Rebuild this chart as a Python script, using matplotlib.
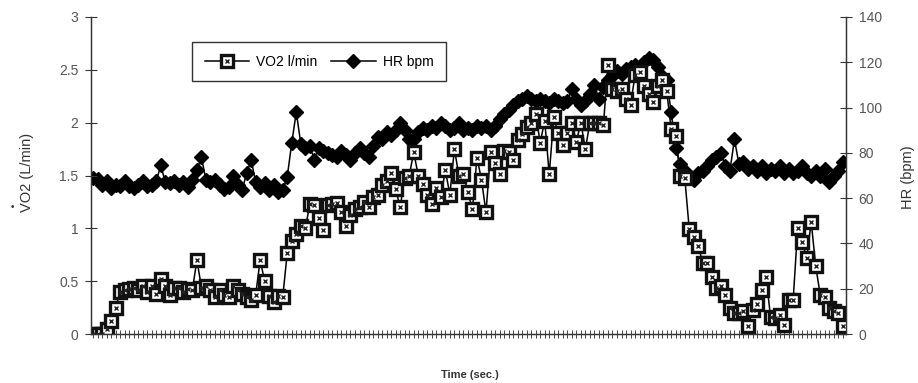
import matplotlib.pyplot as plt
import numpy as np

plt.rcParams['font.family'] = ['Liberation Sans', 'DejaVu Sans']

# VO2 (L/min), one value per sample
vo2 = [0, 0, 0, 0.05, 0.12, 0.25, 0.4, 0.42, 0.43, 0.44,
       0.42, 0.45, 0.4, 0.45, 0.38, 0.52, 0.45, 0.37, 0.44, 0.44,
       0.4, 0.43, 0.42, 0.7, 0.44, 0.45, 0.42, 0.35, 0.42, 0.37,
       0.35, 0.45, 0.42, 0.38, 0.35, 0.32, 0.37, 0.7, 0.5, 0.36,
       0.3, 0.36, 0.35, 0.77, 0.88, 0.95, 1.02, 1.0, 1.23, 1.22,
       1.1, 0.98, 1.22, 1.23, 1.24, 1.15, 1.02, 1.13, 1.18, 1.2,
       1.25, 1.2, 1.3, 1.32, 1.41, 1.45, 1.52, 1.37, 1.2, 1.48,
       1.5, 1.72, 1.5, 1.42, 1.32, 1.23, 1.38, 1.3, 1.55, 1.32,
       1.75, 1.5, 1.51, 1.34, 1.18, 1.67, 1.46, 1.15, 1.72, 1.62,
       1.51, 1.73, 1.72, 1.65, 1.84, 1.89, 1.96, 2.0, 2.08, 1.81,
       2.02, 1.51, 2.05, 1.9, 1.79, 1.9, 2.0, 1.82, 2.0, 1.75,
       2.0, 2.0, 2.0, 1.98, 2.55, 2.32, 2.3, 2.32, 2.22, 2.17,
       2.45, 2.48, 2.35, 2.27, 2.2, 2.35, 2.4, 2.3, 1.94, 1.87,
       1.5, 1.48, 0.99, 0.92, 0.83, 0.67, 0.67, 0.54, 0.44, 0.45,
       0.37, 0.25, 0.2, 0.2, 0.22, 0.08, 0.23, 0.28, 0.42, 0.54,
       0.16, 0.15, 0.18, 0.085, 0.32, 0.32, 1.0, 0.87, 0.72, 1.06,
       0.64, 0.37, 0.35, 0.25, 0.22, 0.2, 0.08]

# heart rate (bpm)
hr = [69, 68.5, 66, 67.5, 64.5, 66, 65.5, 67.5, 65.5, 64.5,
      66, 67.5, 65.5, 66, 67.5, 74.5, 67, 66.5, 67.5, 66,
      67, 65, 68, 72.5, 78, 68, 67, 68, 66, 64,
      65, 70, 66, 63.5, 71, 77, 67, 65, 66.5, 63.5,
      66, 62.5, 63.5, 69.5, 84.5, 98, 84, 82, 83, 77,
      82, 81, 80, 79, 78, 81, 79, 77, 80, 82,
      80, 78, 83, 87, 86, 89, 88, 90, 93, 90,
      86, 86, 89, 91, 90, 92, 91, 93, 92, 90,
      91, 93, 90, 91, 90, 92, 91, 92, 90, 92,
      95, 97, 99, 101, 103, 104, 105, 104, 103, 104,
      103, 102, 104, 103, 102, 103, 108, 104, 101, 103,
      106, 110, 104, 109, 112, 114, 116, 115, 117, 118,
      119, 118, 120, 122, 121, 118, 114, 112, 98, 82,
      75, 72, 70, 68, 71, 72, 74, 77, 78, 80,
      74, 72, 86, 75, 76, 73, 74, 72, 74, 71,
      73, 72, 74, 71, 73, 71, 72, 74, 71, 70,
      72, 70, 73, 67, 70, 72, 76]

vo2_ticks = [0, 0.5, 1, 1.5, 2, 2.5, 3]
vo2_labels = ['0', '0.5', '1', '1.5', '2', '2.5', '3']
hr_ticks = [0, 20, 40, 60, 80, 100, 120, 140]

t = np.arange(len(vo2))
W, H = 918, 383
grey = '#555555'
axcol = '#333333'

fig = plt.figure(figsize=(W / 100, H / 100), dpi=100)
ax = fig.add_axes([91 / W, 49 / H, 755 / W, 317 / H])
ax2 = ax.twinx()

hr_line, = ax2.plot(t, hr, color='black', lw=1.1, marker='D', ms=7.5, mfc='black', mec='black')

l1, = ax.plot(t, vo2, color='black', lw=1.1, marker='s', ms=9, mfc='white', mec='#111111', mew=2.4)
l1b, = ax.plot(t, vo2, ls='none', marker='x', ms=3.2, mec='#222222', mew=1)
ax.set_zorder(ax2.get_zorder() + 1)
ax.patch.set_visible(False)

ax.set_xlim(-0.45, len(vo2) - 1 + 0.7)
ax.set_ylim(0, 3)
ax2.set_ylim(0, 140)

ax.set_xticks(t)
ax.set_xticklabels([])
ax.tick_params(axis='x', direction='inout', length=6, width=0.7, color='#444444')
ax.set_yticks(vo2_ticks)
ax.set_yticklabels(vo2_labels)
ax.tick_params(axis='y', direction='inout', length=8, width=0.8, colors=axcol,
               labelcolor=grey, labelsize=10, pad=5)
ax2.set_yticks(hr_ticks)
ax2.tick_params(axis='y', direction='inout', length=8, width=0.8, colors=axcol,
                labelcolor=grey, labelsize=10, pad=5)

for a in (ax, ax2):
    a.spines['top'].set_visible(False)
    for s in ('left', 'right', 'bottom'):
        a.spines[s].set_color(axcol)
        a.spines[s].set_linewidth(0.9)

ax.legend([(l1, l1b), hr_line], ['VO2 l/min', 'HR bpm'], ncol=2,
          loc='upper left', bbox_to_anchor=(0.134, 0.921), borderaxespad=0,
          frameon=True, fancybox=False, edgecolor='#333333', framealpha=1,
          fontsize=10, handlelength=3.2, handletextpad=0.5, columnspacing=1.0,
          borderpad=0.9)

fig.text(27 / W, 1 - 172 / H, 'VO2 (L/min)', rotation=90, ha='center', va='center',
         fontsize=10.5, color=axcol)
fig.text(12 / W, 1 - 207 / H, '•', ha='center', va='center', fontsize=7, color=axcol)
fig.text(908 / W, 1 - 177 / H, 'HR (bpm)', rotation=90, ha='center', va='center',
         fontsize=10.5, color=axcol)
fig.text(470 / W, 1 - 375 / H, 'Time (sec.)', ha='center', va='center',
         fontsize=8, color=axcol, fontweight='bold')

fig.savefig('out.png', dpi=100)
